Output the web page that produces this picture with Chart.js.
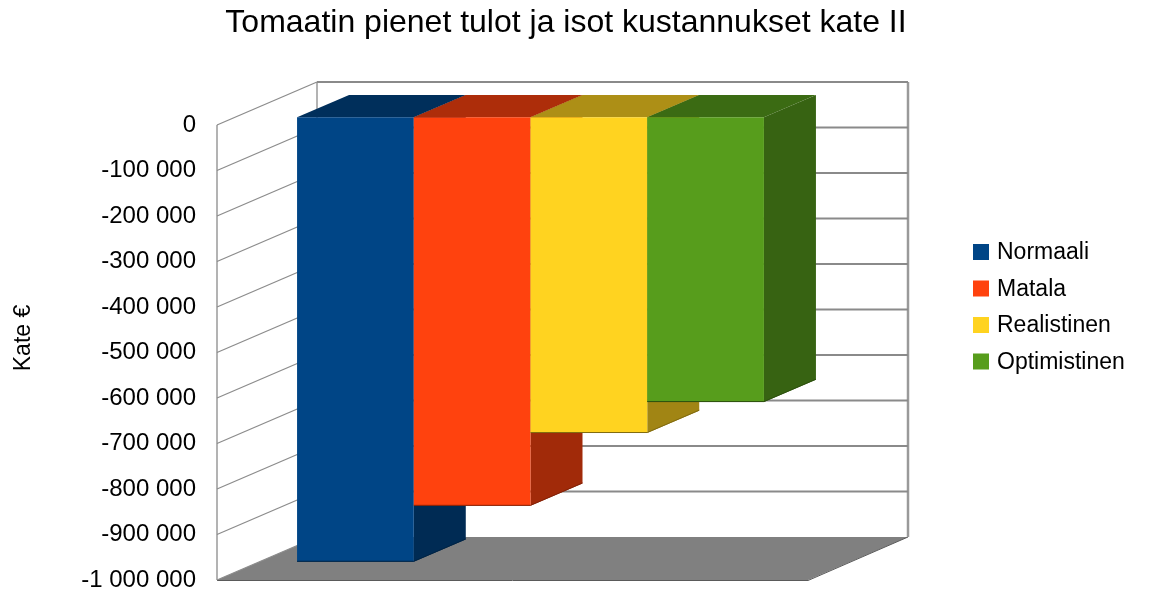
<!DOCTYPE html>
<html>
<head>
<meta charset="utf-8">
<script src="https://cdn.jsdelivr.net/npm/chart.js@4.4.1/dist/chart.umd.min.js"></script>
<style>
  body { margin: 0; background: #fff; }
  canvas { display: block; }
</style>
</head>
<body>
<canvas id="kateChart" width="1149" height="599"></canvas>
<script>
// Kate II, tomaatti: pienet tulot ja isot kustannukset
const categories = ['Kate II'];
const scenarios = ['Normaali', 'Matala', 'Realistinen', 'Optimistinen'];
const kateValues = [-977000, -854000, -694000, -626000];
const scenarioColors = ['#004586', '#ff420e', '#ffd320', '#579d1c'];
const yTicks = [0, -100000, -200000, -300000, -400000, -500000, -600000, -700000, -800000, -900000, -1000000];

const chartTitle = 'Tomaatin pienet tulot ja isot kustannukset kate II';
const axisTitle = 'Kate €';

// depth of the box and where the bars sit inside it
const DEPTH = { x: 100, y: -43 };
const BAR_FRONT = 0.18;
const BAR_BACK = 0.7;

const FONT = "'Liberation Sans', Arial, sans-serif";

function shade(hex, k) {
    const n = parseInt(hex.slice(1), 16);
    const r = Math.round(((n >> 16) & 255) * k);
    const g = Math.round(((n >> 8) & 255) * k);
    const b = Math.round((n & 255) * k);
    return `rgb(${r},${g},${b})`;
}

function formatTick(v) {
    if (v === 0) return '0';
    const s = Math.abs(v).toString().replace(/\B(?=(\d{3})+(?!\d))/g, ' ');
    return (v < 0 ? '-' : '') + s;
}

function poly(ctx, pts, fill) {
    ctx.beginPath();
    ctx.moveTo(pts[0][0], pts[0][1]);
    for (let i = 1; i < pts.length; i++) ctx.lineTo(pts[i][0], pts[i][1]);
    ctx.closePath();
    ctx.fillStyle = fill;
    ctx.fill();
}

const box3d = {
    id: 'box3d',
    beforeDatasetsDraw(chart) {
        const ctx = chart.ctx;
        const { left, right, bottom } = chart.chartArea;
        const y = chart.scales.y;
        const dx = DEPTH.x, dy = DEPTH.y;
        const yMin = y.getPixelForValue(y.min);
        const yMax = y.getPixelForValue(y.max);

        ctx.save();
        // floor
        poly(ctx, [[left, bottom], [right, bottom], [right + dx, bottom + dy], [left + dx, bottom + dy]], '#808080');
        ctx.strokeStyle = '#5a5a5a';
        ctx.lineWidth = 1;
        ctx.beginPath();
        ctx.moveTo(left, bottom + 0.5);
        ctx.lineTo(right, bottom + 0.5);
        ctx.lineTo(right + dx, bottom + dy);
        ctx.stroke();

        // walls outline
        ctx.strokeStyle = '#9a9a9a';
        ctx.lineWidth = 1.5;
        ctx.beginPath();
        ctx.moveTo(left, yMax);
        ctx.lineTo(left, yMin);
        ctx.moveTo(left + dx, yMax + dy);
        ctx.lineTo(left + dx, yMin + dy);
        ctx.stroke();
        ctx.lineWidth = 2.5;
        ctx.beginPath();
        ctx.moveTo(right + dx, yMax + dy);
        ctx.lineTo(right + dx, yMin + dy);
        ctx.stroke();

        // grid lines on the side wall and the back wall
        y.ticks.forEach(t => {
            const py = y.getPixelForValue(t.value);
            ctx.strokeStyle = '#8c8c8c';
            ctx.lineWidth = 1.3;
            ctx.beginPath();
            ctx.moveTo(left, py);
            ctx.lineTo(left + dx, py + dy);
            ctx.stroke();
            if (t.value !== y.min) {
                ctx.strokeStyle = '#8a8a8a';
                ctx.lineWidth = 2.2;
                ctx.beginPath();
                ctx.moveTo(left + dx, py + dy);
                ctx.lineTo(right + dx, py + dy);
                ctx.stroke();
            }
        });

        // bars, left to right so each front face covers the previous side
        const f = { x: DEPTH.x * BAR_FRONT, y: DEPTH.y * BAR_FRONT };
        const b = { x: DEPTH.x * BAR_BACK, y: DEPTH.y * BAR_BACK };
        chart.data.datasets.forEach((ds, i) => {
            const meta = chart.getDatasetMeta(i);
            meta.data.forEach(el => {
                const { x, width, base } = el.getProps(['x', 'width', 'base', 'y'], true);
                const x0 = x - width / 2, x1 = x + width / 2;
                const top = Math.min(base, el.y), bot = Math.max(base, el.y);
                const col = ds.backgroundColor;
                poly(ctx, [[x0 + f.x, top + f.y], [x1 + f.x, top + f.y], [x1 + b.x, top + b.y], [x0 + b.x, top + b.y]], shade(col, 0.68));
                poly(ctx, [[x1 + f.x, top + f.y], [x1 + b.x, top + b.y], [x1 + b.x, bot + b.y], [x1 + f.x, bot + f.y]], shade(col, 0.63));
                poly(ctx, [[x0 + f.x, top + f.y], [x1 + f.x, top + f.y], [x1 + f.x, bot + f.y], [x0 + f.x, bot + f.y]], col);
                ctx.strokeStyle = shade(col, 0.5);
                ctx.lineWidth = 1;
                ctx.beginPath();
                ctx.moveTo(x0 + f.x, bot + f.y - 0.5);
                ctx.lineTo(x1 + f.x, bot + f.y - 0.5);
                ctx.lineTo(x1 + b.x, bot + b.y - 0.5);
                ctx.stroke();
            });
        });
        ctx.restore();
    },
    beforeDatasetDraw() {
        return false;
    },
    afterDraw(chart) {
        const ctx = chart.ctx;
        ctx.save();
        ctx.fillStyle = '#000';
        ctx.textBaseline = 'middle';
        ctx.textAlign = 'center';
        ctx.font = `32px ${FONT}`;
        ctx.fillText(chartTitle, 566, 23);

        // y axis title, rotated
        ctx.save();
        ctx.translate(24, 338);
        ctx.rotate(-Math.PI / 2);
        ctx.font = `23px ${FONT}`;
        ctx.fillText(axisTitle, 0, 0);
        ctx.restore();

        // legend
        ctx.textAlign = 'left';
        ctx.font = `23px ${FONT}`;
        chart.data.datasets.forEach((ds, i) => {
            const cy = 252 + i * 36.5;
            ctx.fillStyle = ds.backgroundColor;
            ctx.fillRect(973, cy - 8, 16, 16);
            ctx.fillStyle = '#000';
            ctx.fillText(ds.label, 997, cy + 1);
        });
        ctx.restore();
    }
};

new Chart(document.getElementById('kateChart').getContext('2d'), {
    type: 'bar',
    data: {
        labels: categories,
        datasets: scenarios.map((name, i) => ({
            label: name,
            data: [kateValues[i]],
            backgroundColor: scenarioColors[i],
            categoryPercentage: 0.79,
            barPercentage: 1
        }))
    },
    options: {
        responsive: false,
        animation: false,
        layout: {
            padding: { top: 125, right: 341, bottom: 19, left: 0 }
        },
        plugins: {
            legend: { display: false },
            title: { display: false },
            tooltip: { enabled: false }
        },
        scales: {
            x: { display: false },
            y: {
                min: -1000000,
                max: 0,
                afterFit: scale => { scale.width = 217; },
                afterBuildTicks: scale => { scale.ticks = yTicks.map(v => ({ value: v })); },
                // tick length (not drawn) keeps the labels away from the wall
                grid: { display: false, drawTicks: true, tickLength: 21 },
                border: { display: false },
                ticks: {
                    autoSkip: false,
                    padding: 0,
                    color: '#000',
                    font: { family: FONT, size: 24 },
                    callback: v => formatTick(v)
                }
            }
        }
    },
    plugins: [box3d]
});
</script>
</body>
</html>
